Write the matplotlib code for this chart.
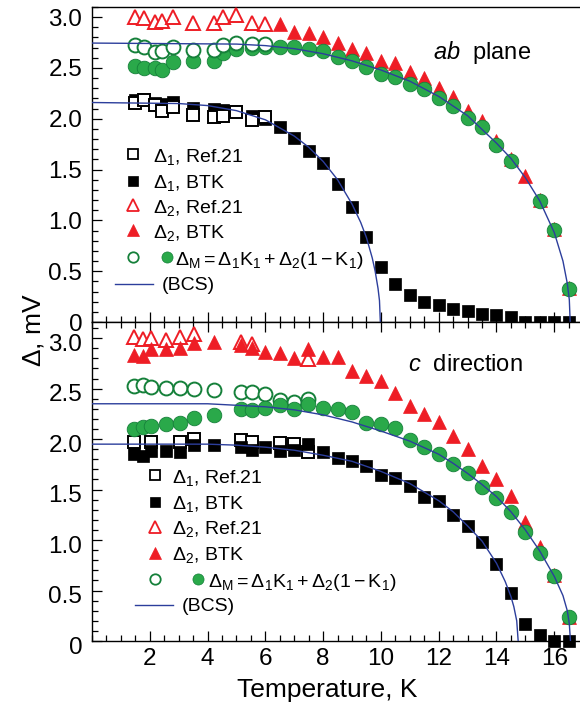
import numpy as np
import matplotlib
matplotlib.use('Agg')
import matplotlib.pyplot as plt
from matplotlib.ticker import MultipleLocator, FuncFormatter
from matplotlib.transforms import ScaledTranslation

plt.rcParams['font.family'] = ['Liberation Sans', 'DejaVu Sans']
plt.rcParams['mathtext.fontset'] = 'custom'
plt.rcParams['mathtext.rm'] = 'Liberation Sans'
plt.rcParams['mathtext.it'] = 'Liberation Sans:italic'
plt.rcParams['mathtext.default'] = 'regular'

# ============================================================================
# DATA - ab plane (top panel)
# ============================================================================
ab_ref_T = [1.50, 1.79, 2.19, 2.42, 2.80, 3.49, 4.23, 4.53, 4.99, 5.54, 6.00]
ab_d1_ref = [2.16, 2.18, 2.14, 2.08, 2.12, 2.04, 2.02, 2.03, 2.07, 1.99, 2.02]
ab_d2_ref = [3.00, 2.99, 2.95, 2.96, 3.00, 2.94, 2.94, 3.00, 3.02, 2.94, 2.93]
ab_dm_ref = [2.73, 2.71, 2.66, 2.67, 2.71, 2.68, 2.68, 2.73, 2.75, 2.74, 2.74]

ab_d1_T = [1.50, 1.79, 2.19, 2.42, 2.80, 3.49, 4.23, 4.53, 4.99, 5.54, 6.0, 6.5,
           7.0, 7.5, 8.0, 8.5, 9.0, 9.5, 10.0, 10.5, 11.0, 11.5, 12.0, 12.5,
           13.0, 13.5, 14.0, 14.5, 15.0, 15.5, 16.0, 16.5]
ab_d1_btk = [2.18, 2.19, 2.16, 2.15, 2.17, 2.11, 2.10, 2.09, 2.08, 2.03, 2.00, 1.92,
             1.81, 1.68, 1.56, 1.36, 1.13, 0.84, 0.54, 0.37, 0.27, 0.20, 0.17, 0.13,
             0.11, 0.08, 0.07, 0.05, 0.0, 0.0, 0.0, 0.0]

ab_d2_T = [6.5, 7.0, 7.5, 8.0, 8.5, 9.0, 9.5, 10.0, 10.5, 11.0, 11.5, 12.0, 12.5,
           13.0, 13.5, 14.0, 14.5, 15.0, 15.5, 16.0, 16.5]
ab_d2_btk = [2.93, 2.85, 2.84, 2.80, 2.75, 2.69, 2.65, 2.57, 2.55, 2.46, 2.40, 2.30, 2.21,
             2.08, 1.98, 1.78, 1.60, 1.44, 1.20, 0.92, 0.33]

ab_dm_T = [1.50, 1.79, 2.19, 2.42, 2.80, 3.49, 4.23, 4.53, 4.99, 5.54, 6.0, 6.5,
           7.0, 7.5, 8.0, 8.5, 9.0, 9.5, 10.0, 10.5, 11.0, 11.5, 12.0, 12.5,
           13.0, 13.5, 14.0, 14.5, 15.5, 16.0, 16.5]
ab_dm = [2.52, 2.50, 2.50, 2.48, 2.56, 2.57, 2.57, 2.65, 2.69, 2.70, 2.71, 2.71,
         2.71, 2.69, 2.67, 2.61, 2.57, 2.51, 2.44, 2.41, 2.34, 2.29, 2.20, 2.13,
         2.01, 1.92, 1.74, 1.58, 1.19, 0.91, 0.32]

ab_bcs1_T = [0, 3, 4, 5, 6, 6.5, 7, 7.5, 8, 8.5, 9, 9.3, 9.5, 9.7, 9.8, 9.9, 9.95, 9.98]
ab_bcs1 = [2.16, 2.15, 2.13, 2.08, 1.99, 1.91, 1.83, 1.72, 1.58, 1.40, 1.16, 0.98,
           0.83, 0.63, 0.50, 0.33, 0.21, 0.0]
ab_bcs2_T = [0, 5, 6, 7, 8, 9, 10, 11, 12, 13, 14, 14.5, 15, 15.5, 16, 16.3, 16.45,
             16.52, 16.55]
ab_bcs2 = [2.745, 2.735, 2.72, 2.69, 2.64, 2.57, 2.48, 2.37, 2.22, 2.03, 1.76, 1.61,
           1.42, 1.19, 0.88, 0.60, 0.38, 0.22, 0.0]

# ============================================================================
# DATA - c direction (bottom panel)
# ============================================================================
c_d1_ref_T = [1.44, 2.04, 3.06, 3.54, 5.16, 5.54, 6.49, 7.00, 7.49]
c_d1_ref = [1.97, 1.97, 1.97, 2.00, 1.99, 1.97, 1.96, 1.95, 1.87]
c_d2_ref_T = [1.44, 1.76, 2.04, 2.57, 3.06, 3.54, 5.16, 5.54, 7.49]
c_d2_ref = [3.01, 2.99, 3.00, 2.98, 3.01, 3.04, 2.96, 2.94, 2.79]
c_dm_ref_T = [1.44, 1.76, 2.04, 2.57, 3.06, 3.54, 4.23, 5.16, 5.54, 6.00, 6.49, 7.00, 7.49]
c_dm_ref = [2.53, 2.54, 2.52, 2.51, 2.51, 2.50, 2.49, 2.47, 2.47, 2.45, 2.39, 2.37, 2.40]

c_T = [1.44, 1.76, 2.04, 2.57, 3.06, 3.54, 4.23, 5.16, 5.54, 6.00, 6.49, 7.00, 7.49,
       8.0, 8.5, 9.0, 9.5, 10.0, 10.5, 11.0, 11.5, 12.0, 12.5, 13.0, 13.5, 14.0,
       14.5, 15.0, 15.5, 16.0, 16.5]
c_d1_btk = [1.85, 1.83, 1.88, 1.88, 1.87, 1.94, 1.94, 1.92, 1.89, 1.92, 1.88, 1.89, 1.95,
            1.87, 1.81, 1.78, 1.73, 1.64, 1.61, 1.54, 1.43, 1.39, 1.25, 1.14, 0.98, 0.76,
            0.48, 0.17, 0.06, 0.0, 0.0]
c_d2_btk = [2.83, 2.82, 2.89, 2.89, 2.90, 2.95, 2.96, 2.93, 2.90, 2.86, 2.85, 2.80, 2.89,
            2.81, 2.81, 2.67, 2.63, 2.58, 2.46, 2.33, 2.25, 2.17, 2.03, 1.90, 1.73, 1.60,
            1.44, 1.18, 0.93, 0.65, 0.24]
c_dm = [2.10, 2.12, 2.13, 2.15, 2.16, 2.21, 2.24, 2.30, 2.29, 2.31, 2.34, 2.30, 2.35,
        2.31, 2.30, 2.27, 2.16, 2.15, 2.11, 1.99, 1.92, 1.85, 1.75, 1.66, 1.53, 1.42,
        1.28, 1.08, 0.87, 0.64, 0.24]

c_bcs1_T = [0, 4, 5, 6, 7, 8, 9, 10, 11, 12, 12.5, 13, 13.5, 14, 14.3, 14.5, 14.6,
            14.7, 14.75]
c_bcs1 = [1.95, 1.95, 1.94, 1.92, 1.89, 1.84, 1.78, 1.68, 1.56, 1.39, 1.28, 1.14, 0.99,
          0.77, 0.59, 0.44, 0.34, 0.20, 0.0]
c_bcs2_T = [0, 4, 6, 7, 8, 9, 10, 11, 12, 12.5, 13, 13.5, 14, 14.5, 15, 15.5, 16,
            16.3, 16.45, 16.52, 16.56]
c_bcs2 = [2.35, 2.35, 2.32, 2.29, 2.24, 2.17, 2.08, 1.98, 1.85, 1.76, 1.66, 1.55, 1.43,
          1.28, 1.10, 0.89, 0.64, 0.45, 0.30, 0.17, 0.0]

# ============================================================================
# STYLES
# ============================================================================
RED = '#ee1d25'
GREEN = '#2aa94a'
GREEN_EDGE = '#15803a'
BLUE = '#2c3e9c'

sty = {
    'd1_ref': dict(marker='s', ms=8.5, mfc='white', mec='black', mew=1.4),
    'd1_btk': dict(marker='s', ms=9, mfc='black', mec='black', mew=0.5),
    'd2_ref': dict(marker='^', ms=10, mfc='white', mec=RED, mew=1.4),
    'd2_btk': dict(marker='^', ms=10.5, mfc=RED, mec=RED, mew=0.5),
    'dm_ref': dict(marker='o', ms=10, mfc='white', mec=GREEN_EDGE, mew=1.4),
    'dm': dict(marker='o', ms=10.5, mfc=GREEN, mec=GREEN_EDGE, mew=0.6),
}

W, H = 580, 713
fig = plt.figure(figsize=(W / 100, H / 100), dpi=100)
ax1 = fig.add_axes([92 / W, 1 - 322 / H, 488 / W, 315 / H])
ax2 = fig.add_axes([92 / W, 1 - 641 / H, 488 / W, 319 / H])


def pts(ax, x, y, key, z):
    ax.plot(x, y, ls='none', clip_on=False, zorder=z, **sty[key])


# top panel
ax1.plot(ab_bcs1_T, ab_bcs1, color=BLUE, lw=1.0, zorder=6)
ax1.plot(ab_bcs2_T, ab_bcs2, color=BLUE, lw=1.0, zorder=6)
pts(ax1, ab_d1_T, ab_d1_btk, 'd1_btk', 3)
pts(ax1, ab_ref_T, ab_d1_ref, 'd1_ref', 4)
pts(ax1, ab_d2_T, ab_d2_btk, 'd2_btk', 3)
pts(ax1, ab_ref_T, ab_d2_ref, 'd2_ref', 4)
pts(ax1, ab_dm_T, ab_dm, 'dm', 3)
pts(ax1, ab_ref_T, ab_dm_ref, 'dm_ref', 4)

# bottom panel
ax2.plot(c_bcs1_T, c_bcs1, color=BLUE, lw=1.0, zorder=6)
ax2.plot(c_bcs2_T, c_bcs2, color=BLUE, lw=1.0, zorder=6)
pts(ax2, c_d2_ref_T, c_d2_ref, 'd2_ref', 3)
pts(ax2, c_T, c_d2_btk, 'd2_btk', 4)
pts(ax2, c_dm_ref_T, c_dm_ref, 'dm_ref', 3)
pts(ax2, c_T, c_dm, 'dm', 4)
pts(ax2, c_d1_ref_T, c_d1_ref, 'd1_ref', 3)
pts(ax2, c_T, c_d1_btk, 'd1_btk', 4)

# axes
yfmt = FuncFormatter(lambda v, p: '0' if abs(v) < 1e-9 else f'{v:.1f}')
for ax, ytop in ((ax1, 3.10), (ax2, 3.16)):
    ax.set_xlim(0, 16.89)
    ax.set_ylim(0, ytop)
    ax.xaxis.set_major_locator(MultipleLocator(2))
    ax.xaxis.set_minor_locator(MultipleLocator(0.5))
    ax.yaxis.set_major_locator(MultipleLocator(0.5))
    ax.yaxis.set_minor_locator(MultipleLocator(0.1))
    ax.yaxis.set_major_formatter(yfmt)
    ax.spines['right'].set_visible(False)
    for s in ax.spines.values():
        s.set_linewidth(1.0)
    ax.tick_params(which='both', direction='in', right=False, width=0.9,
                   labelsize=17.5, pad=7)
    ax.tick_params(which='major', length=7)
    ax.tick_params(which='minor', length=4)

ax1.tick_params(which='both', top=False, labelbottom=False)
ax2.tick_params(which='both', top=True)
ax2.tick_params(axis='x', pad=5)
ax2.set_xticks([2, 4, 6, 8, 10, 12, 14, 16])

# lower panel's y labels sit a little below their ticks in the original
shift = ScaledTranslation(0, -4 / 100, fig.dpi_scale_trans)
for lab in ax2.get_yticklabels():
    lab.set_transform(lab.get_transform() + shift)

fig.text(327 / W, 1 - 690 / H, 'Temperature, K', ha='center', va='center',
         fontsize=19)
fig.text(33 / W, 1 - 330 / H, r'$\Delta$, mV', ha='center', va='center',
         rotation=90, fontsize=19)

ax1.text(0.699, 0.857, r'$\mathit{ab}$  plane', transform=ax1.transAxes,
         ha='left', va='center', fontsize=17)
ax2.text(0.648, 0.865, r'$\mathit{c}$  direction', transform=ax2.transAxes,
         ha='left', va='center', fontsize=17)

# ============================================================================
# LEGENDS (drawn by hand, two markers in the Delta_M row)
# ============================================================================
key_sty = {
    'd1_ref': dict(marker='s', ms=6.5, mfc='white', mec='black', mew=1.3),
    'd1_btk': dict(marker='s', ms=7, mfc='black', mec='black', mew=0.5),
    'd2_ref': dict(marker='^', ms=8, mfc='white', mec=RED, mew=1.3),
    'd2_btk': dict(marker='^', ms=8.5, mfc=RED, mec=RED, mew=0.5),
    'dm_ref': dict(marker='o', ms=7.5, mfc='white', mec=GREEN_EDGE, mew=1.3),
    'dm': dict(marker='o', ms=8, mfc=GREEN, mec=GREEN_EDGE, mew=0.5),
}
labels = [r'$\Delta_1$, Ref.21', r'$\Delta_1$, BTK', r'$\Delta_2$, Ref.21',
          r'$\Delta_2$, BTK']
keys = ['d1_ref', 'd1_btk', 'd2_ref', 'd2_btk']
dm_label = r'$\Delta_M = \Delta_1K_1 + \Delta_2(1-K_1)$'


def draw_key(ax, ys, mx, tx, mx2, tx2, lx0, lx1, tx3):
    tr = ax.transAxes
    for y, k, lab in zip(ys[:4], keys, labels):
        ax.plot([mx], [y], transform=tr, clip_on=False, ls='none', **key_sty[k])
        ax.text(tx, y, lab, transform=tr, va='center_baseline', fontsize=14)
    ax.plot([mx], [ys[4]], transform=tr, clip_on=False, ls='none', **key_sty['dm_ref'])
    ax.plot([mx2], [ys[4]], transform=tr, clip_on=False, ls='none', **key_sty['dm'])
    ax.text(tx2, ys[4], dm_label, transform=tr, va='center_baseline', fontsize=14)
    ax.plot([lx0, lx1], [ys[5], ys[5]], transform=tr, color=BLUE, lw=1.0)
    ax.text(tx3, ys[5], '(BCS)', transform=tr, va='center_baseline', fontsize=14)


draw_key(ax1, [0.533, 0.449, 0.371, 0.292, 0.206, 0.121],
         0.084, 0.125, 0.154, 0.170, 0.047, 0.125, 0.143)
draw_key(ax2, [0.520, 0.436, 0.358, 0.277, 0.194, 0.113],
         0.129, 0.163, 0.218, 0.238, 0.088, 0.167, 0.184)

fig.savefig('out.png', dpi=100, facecolor='white')
